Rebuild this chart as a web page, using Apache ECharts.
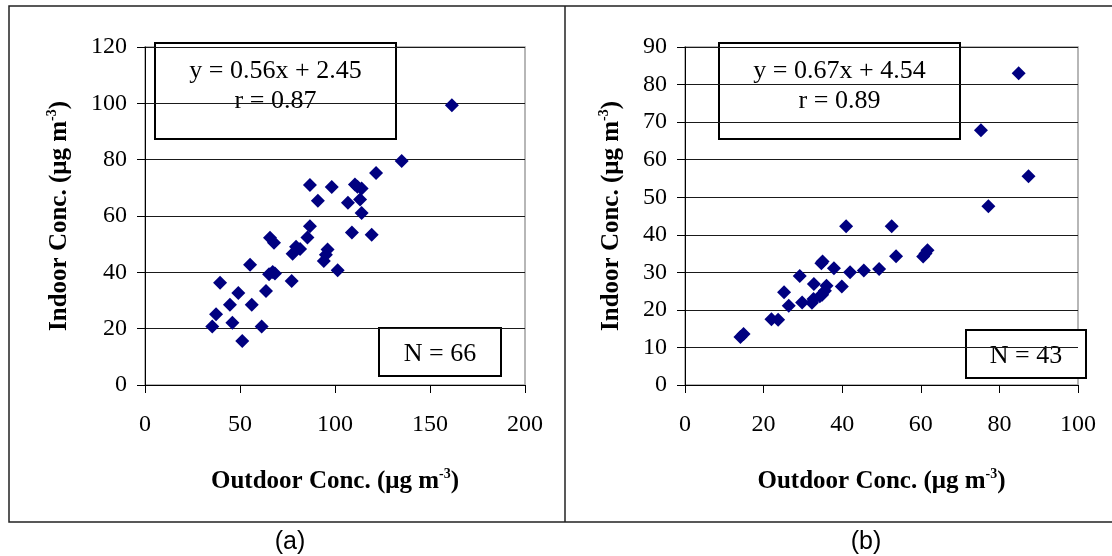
<!DOCTYPE html>
<html>
<head>
<meta charset="utf-8">
<script src="https://cdn.jsdelivr.net/npm/echarts@6/dist/echarts.min.js"></script>
<style>
  html, body { margin: 0; padding: 0; background: #fff; }
  #chart { width: 1112px; height: 556px; }
</style>
</head>
<body>
<div id="chart"></div>
<script>
// panel (a): outdoor vs indoor, N = 66
var outdoorA = [161.5, 135.1, 121.6, 86.8, 98.3, 110.5, 111.8, 114.0, 91.0, 106.8,
  113.2, 114.0, 86.8, 85.5, 108.9, 119.3, 65.8, 67.9, 79.5, 81.6,
  77.7, 96.1, 94.1, 101.4, 55.3, 65.3, 67.2, 68.4, 77.2, 39.5,
  49.1, 63.7, 44.7, 56.2, 37.4, 46.0, 35.4, 61.4, 51.2, 95.2];
var indoorA = [99.3, 79.5, 75.3, 71.0, 70.3, 71.2, 70.4, 69.8, 65.4, 64.7,
  65.9, 61.1, 56.4, 52.4, 54.1, 53.3, 52.3, 50.5, 49.1, 48.3,
  46.6, 48.1, 44.0, 40.7, 42.7, 39.3, 40.1, 39.6, 36.9, 36.3,
  32.7, 33.4, 28.5, 28.5, 25.1, 22.1, 20.8, 20.8, 15.6, 46.2];

// panel (b): outdoor vs indoor, N = 43
var outdoorB = [84.9, 75.3, 87.4, 77.2, 41.0, 52.6, 53.7, 60.6, 61.7, 61.2,
  35.0, 34.7, 37.9, 42.0, 45.5, 49.4, 29.2, 32.8, 36.0, 39.9,
  25.2, 34.9, 32.7, 29.8, 32.3, 26.4, 22.0, 23.7, 14.1, 14.9,
  34.3, 35.6];
var indoorB = [83.0, 67.8, 55.6, 47.6, 42.3, 42.3, 34.3, 34.2, 35.9, 35.0,
  32.9, 32.4, 31.1, 30.0, 30.5, 30.9, 29.0, 26.9, 26.4, 26.2,
  24.7, 24.0, 22.9, 22.0, 21.9, 21.1, 17.5, 17.4, 12.8, 13.6,
  23.6, 25.1];

var eqA = ['y = 0.56x + 2.45', 'r = 0.87'];
var eqB = ['y = 0.67x + 4.54', 'r = 0.89'];
var countA = 'N = 66';
var countB = 'N = 43';

var serif = '"Liberation Serif", "Times New Roman", serif';
var dotColor = '#000080';

function pairs(xs, ys) {
  return xs.map(function (x, i) { return [x, ys[i]]; });
}

var nameRich = {
  b: { fontFamily: serif, fontWeight: 'bold', fontSize: 25, color: '#000', lineHeight: 30 },
  s: { fontFamily: serif, fontWeight: 'bold', fontSize: 14, color: '#000', lineHeight: 14, verticalAlign: 'top' }
};
var unitName = function (txt) {
  return '{b|' + txt + ' (μg m}{s|-3}{b|)}';
};

function xAxisFor(idx, max, interval) {
  return {
    type: 'value', gridIndex: idx, min: 0, max: max, interval: interval,
    axisLine: { show: true, lineStyle: { color: '#000', width: 1 } },
    axisTick: { show: true, length: 8, lineStyle: { color: '#000' } },
    axisLabel: { margin: 28, fontSize: 24, color: '#000', fontFamily: serif },
    splitLine: { show: false },
    name: unitName('Outdoor Conc.'),
    nameLocation: 'middle', nameGap: 82,
    nameTextStyle: { rich: nameRich }
  };
}

function yAxisFor(idx, max, interval, gap) {
  return {
    type: 'value', gridIndex: idx, min: 0, max: max, interval: interval,
    axisLine: { show: true, lineStyle: { color: '#000', width: 1 } },
    axisTick: { show: true, length: 8, lineStyle: { color: '#000' } },
    axisLabel: { margin: 18, fontSize: 24, color: '#000', fontFamily: serif },
    splitLine: { show: true, lineStyle: { color: '#1a1a1a', width: 1 } },
    name: unitName('Indoor Conc.'),
    nameLocation: 'middle', nameGap: gap, nameRotate: 90,
    nameTextStyle: { rich: nameRich }
  };
}

function box(x, y, w, h, lines, fontSize, lineHeight, dy) {
  return {
    type: 'group', z: 100,
    children: [
      { type: 'rect', shape: { x: x, y: y, width: w, height: h },
        style: { fill: '#fff', stroke: '#000', lineWidth: 2 } },
      { type: 'text', style: {
          text: lines.join('\n'), x: x + w / 2, y: y + h / 2 + dy,
          align: 'center', verticalAlign: 'middle',
          font: fontSize + 'px ' + serif, lineHeight: lineHeight, fill: '#000' } }
    ]
  };
}

var chart = echarts.init(document.getElementById('chart'));
chart.setOption({
  animation: false,
  backgroundColor: '#fff',
  grid: [
    { left: 145, top: 47, width: 380, height: 338, show: true, borderColor: '#a0a0a0', borderWidth: 1.5 },
    { left: 685, top: 47, width: 393, height: 338, show: true, borderColor: '#a0a0a0', borderWidth: 1.5 }
  ],
  xAxis: [xAxisFor(0, 200, 50), xAxisFor(1, 100, 20)],
  yAxis: [yAxisFor(0, 120, 20, 70), yAxisFor(1, 90, 10, 58)],
  series: [
    { type: 'scatter', xAxisIndex: 0, yAxisIndex: 0, symbol: 'diamond', symbolSize: 14,
      itemStyle: { color: dotColor, opacity: 1 }, data: pairs(outdoorA, indoorA) },
    { type: 'scatter', xAxisIndex: 1, yAxisIndex: 1, symbol: 'diamond', symbolSize: 14,
      itemStyle: { color: dotColor, opacity: 1 }, data: pairs(outdoorB, indoorB) }
  ],
  graphic: [
    // outer frame and divider
    { type: 'polyline', z: 50, shape: { points: [[1114, 6], [9, 6], [9, 522], [1114, 522]] },
      style: { stroke: '#222', lineWidth: 1.5, fill: null } },
    { type: 'line', z: 50, shape: { x1: 565, y1: 6, x2: 565, y2: 522 },
      style: { stroke: '#222', lineWidth: 1.5 } },
    box(155, 43, 241, 96, eqA, 26, 30, -5),
    box(379, 328, 122, 48, [countA], 26, 30, 2),
    box(719, 43, 241, 96, eqB, 26, 30, -5),
    box(966, 330, 120, 48, [countB], 26, 30, 2),
    { type: 'text', z: 50, style: { text: '(a)', x: 290, y: 542, align: 'center', verticalAlign: 'middle',
      font: '25px "Liberation Sans", Arial, sans-serif', fill: '#000' } },
    { type: 'text', z: 50, style: { text: '(b)', x: 866, y: 542, align: 'center', verticalAlign: 'middle',
      font: '25px "Liberation Sans", Arial, sans-serif', fill: '#000' } }
  ]
});
</script>
</body>
</html>
